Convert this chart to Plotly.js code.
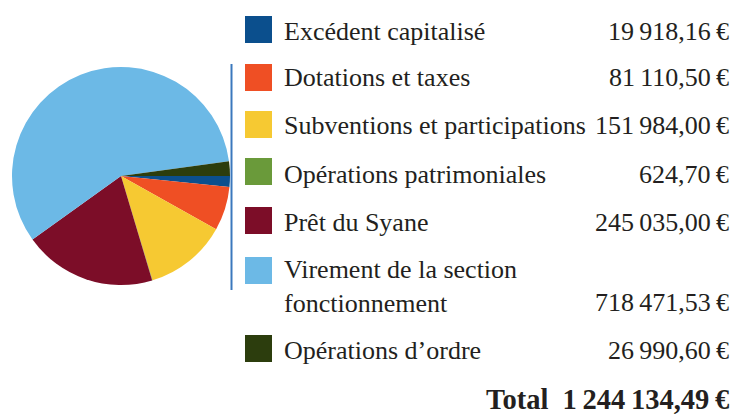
<!DOCTYPE html>
<html>
<head>
<meta charset="utf-8">
<script src="https://cdn.plot.ly/plotly-3.0.1.min.js"></script>
<style>html,body{margin:0;padding:0;background:#fff;}#chart{width:736px;height:414px;}</style>
</head>
<body>
<div id="chart"></div>
<script>
// ---- data ----
const categories = [
  "Excédent capitalisé",
  "Dotations et taxes",
  "Subventions et participations",
  "Opérations patrimoniales",
  "Prêt du Syane",
  "Virement de la section<br>fonctionnement",
  "Opérations d’ordre"
];
const amounts = [19918.16, 81110.50, 151984.00, 624.70, 245035.00, 718471.53, 26990.60];
const sliceColors = ["#0b4f8d", "#ef4f24", "#f6c932", "#6a9a3a", "#7c0d28", "#6cb9e6", "#2c3d0d"];
const totalLabel = "Total";
const totalAmount = 1244134.49;

// ---- helpers ----
const W = 736, H = 414;
const px = x => x / W;
const py = y => 1 - y / H;
function fmt(v) {
  const parts = v.toFixed(2).split(".");
  const intPart = parts[0].replace(/\B(?=(\d{3})+(?!\d))/g, "\u2009");
  return intPart + "," + parts[1] + "\u2009€";
}

// layout geometry (pixels)
const cx = 121, cy = 176, r = 109;
const squareTops = [16, 64, 111, 158, 207, 257, 335];
const firstBaselines = [39, 86, 133, 182, 230, 279, 358];
const lineGap = 31;
const sq = 27;
const labelX = 282, valueRight = 731;
const textColor = "#231f20";
const fontFam = "Liberation Serif";

const shapes = [];
const annotations = [];
categories.forEach((c, i) => {
  shapes.push({type: "rect", xref: "paper", yref: "paper",
    x0: px(245), x1: px(245 + sq), y0: py(squareTops[i] + sq), y1: py(squareTops[i]),
    fillcolor: sliceColors[i], line: {width: 0}});
  const nLines = c.split("<br>").length;
  const b0 = firstBaselines[i];
  const center = b0 - 8 + (nLines - 1) * lineGap / 2;
  annotations.push({xref: "paper", yref: "paper", x: px(labelX), y: py(center),
    xanchor: "left", yanchor: "middle", align: "left", showarrow: false,
    text: c, font: {family: fontFam, size: 26, color: textColor}});
  const lastBase = b0 + (nLines - 1) * lineGap;
  annotations.push({xref: "paper", yref: "paper", x: px(valueRight), y: py(lastBase - 8),
    xanchor: "right", yanchor: "middle", align: "right", showarrow: false,
    text: fmt(amounts[i]), font: {family: fontFam, size: 26, color: textColor}});
});
annotations.push({xref: "paper", yref: "paper", x: px(valueRight), y: py(399),
  xanchor: "right", yanchor: "middle", showarrow: false,
  text: "<b>" + totalLabel + "\u2002" + fmt(totalAmount) + "</b>",
  font: {family: fontFam, size: 28.5, color: textColor}});

shapes.push({type: "line", xref: "paper", yref: "paper",
  x0: px(231.5), x1: px(231.5), y0: py(64), y1: py(290),
  line: {color: "#3b78bd", width: 2}});

const trace = {
  type: "pie",
  labels: categories,
  values: amounts,
  marker: {colors: sliceColors, line: {width: 0}},
  sort: false,
  direction: "clockwise",
  rotation: 90,
  textinfo: "none",
  hoverinfo: "label+value",
  showlegend: false,
  domain: {x: [px(cx - r), px(cx + r)], y: [py(cy + r), py(cy - r)]}
};

const layout = {
  width: W, height: H,
  margin: {l: 0, r: 0, t: 0, b: 0},
  paper_bgcolor: "#ffffff",
  showlegend: false,
  font: {family: fontFam},
  shapes: shapes,
  annotations: annotations
};

Plotly.newPlot("chart", [trace], layout, {displayModeBar: false, staticPlot: true});
</script>
</body>
</html>
